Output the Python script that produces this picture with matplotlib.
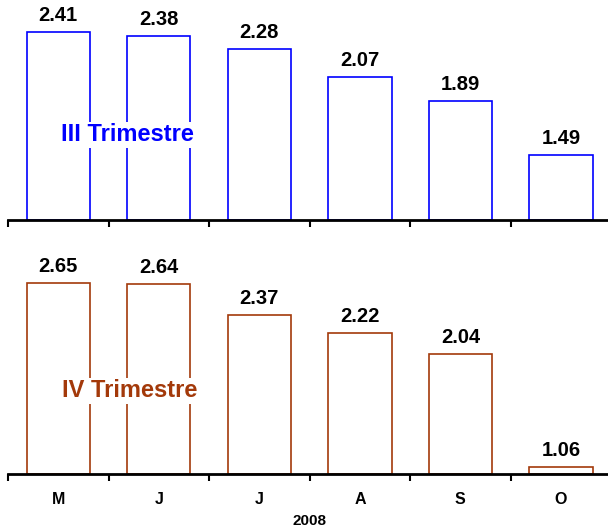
import matplotlib.pyplot as plt
import numpy as np

plt.rcParams['font.family'] = ['Liberation Sans', 'DejaVu Sans']

# data
months = ['M', 'J', 'J', 'A', 'S', 'O']
q3 = [2.41, 2.38, 2.28, 2.07, 1.89, 1.49]
q4 = [2.65, 2.64, 2.37, 2.22, 2.04, 1.06]
year = '2008'

fig = plt.figure(figsize=(6.08, 5.31), dpi=100)
ax1 = fig.add_axes([0.0132, 0.5857, 0.992, 0.4017])
ax2 = fig.add_axes([0.0132, 0.1073, 0.992, 0.436])

x = np.arange(len(months))

def draw(ax, vals, color, ylim, label, lx, ly):
    ax.bar(x, [v - ylim[0] for v in vals], bottom=ylim[0], width=0.63,
           facecolor='white', edgecolor=color, linewidth=1.2)
    for xi, v in zip(x, vals):
        ax.annotate(f'{v:.2f}', (xi, v), xytext=(0, 5), textcoords='offset points',
                    ha='center', va='bottom', fontsize=14.5, fontweight='bold')
    ax.set_ylim(*ylim)
    ax.set_xlim(-0.5, 5.5)
    for s in ['top', 'right', 'left']:
        ax.spines[s].set_visible(False)
    ax.spines['bottom'].set_linewidth(2)
    ax.set_yticks([])
    ax.set_xticks(np.arange(-0.5, 6, 1))
    ax.set_xticklabels([])
    ax.tick_params(axis='x', direction='out', length=5, width=1.5)
    ax.text(lx, ly, label, color=color, fontsize=17, fontweight='bold',
            ha='center', va='center', zorder=5,
            bbox=dict(facecolor='white', edgecolor='none', pad=1))

draw(ax1, q3, '#0000FF', (1.0, 2.6), 'III Trimestre', 0.69, 1.64)
draw(ax2, q4, '#A3390A', (1.0, 3.0), 'IV Trimestre', 0.71, 1.72)

ax2.set_xticks(x, minor=True)
ax2.set_xticklabels(months, minor=True, fontsize=11.5, fontweight='bold')
ax2.tick_params(axis='x', which='minor', length=0, pad=13)
ax2.set_xlabel(year, fontsize=11, fontweight='bold', labelpad=5)

fig.savefig('out.png', dpi=100)
